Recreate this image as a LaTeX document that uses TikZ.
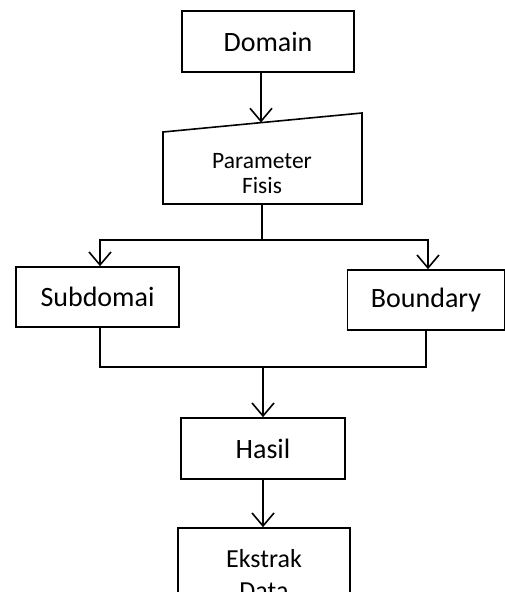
\documentclass[tikz,border=0pt]{standalone}
\usepackage{fontspec}
\setmainfont{Carlito}
\usetikzlibrary{arrows.meta,calc}
\begin{document}
\begin{tikzpicture}[x=1pt,y=-1pt,
  box/.style={draw,line width=1.6pt,rectangle,inner sep=0pt,align=center},
  big/.style={font=\fontsize{28}{34}\selectfont},
  arr/.style={line width=1.6pt,-{Straight Barb[length=13pt,width=22pt,line width=1.6pt]}},
  ln/.style={line width=1.6pt}]
\useasboundingbox (0,0) rectangle (505,592);
\clip (0,0) rectangle (505,592);
% Domain
\node[box,big,minimum width=172pt,minimum height=61pt] (domain) at (268,41.5) {Domain};
% Parameter Fisis (manual input shape)
\draw[ln,line join=miter] (163,132) -- (362,113) -- (362,204) -- (163,204) -- cycle;
\coordinate (pin) at (261,122.5);
\coordinate (pout) at (262,204);
\node[align=center,inner sep=0pt,font=\fontsize{23.5}{25}\selectfont] (param) at (262,174) {Parameter\\Fisis};
% Subdomai / Boundary
\node[box,big,minimum width=163pt,minimum height=60pt] (sub) at (97.5,297) {Subdomai};
\node[box,big,minimum width=157pt,minimum height=60pt] (bnd) at (426,300) {Boundary};
% Hasil
\node[box,big,minimum width=164pt,minimum height=61pt] (hasil) at (263,448.5) {Hasil};
% Ekstrak Data
\node[box,minimum width=172pt,minimum height=94pt,font=\fontsize{26}{32}\selectfont] (ekstrak) at (264,575) {Ekstrak\\Data};
% connectors
\draw[arr] (domain.south -| pin) -- (pin);
\draw[arr] (pout) -- ++(0,36) -| ($(sub.north)+(2.5,0)$);
\draw[arr] (pout) -- ++(0,36) -| ($(bnd.north)+(2,0)$);
\draw[ln] ($(sub.south)+(2.5,0)$) -- ++(0,39) coordinate (m1) -- (m1 -| bnd.south) -- (bnd.south);
\draw[arr] (m1 -| hasil.north) -- (hasil.north);
\draw[arr] (hasil.south) -- (hasil.south |- ekstrak.north);
\end{tikzpicture}
\end{document}
